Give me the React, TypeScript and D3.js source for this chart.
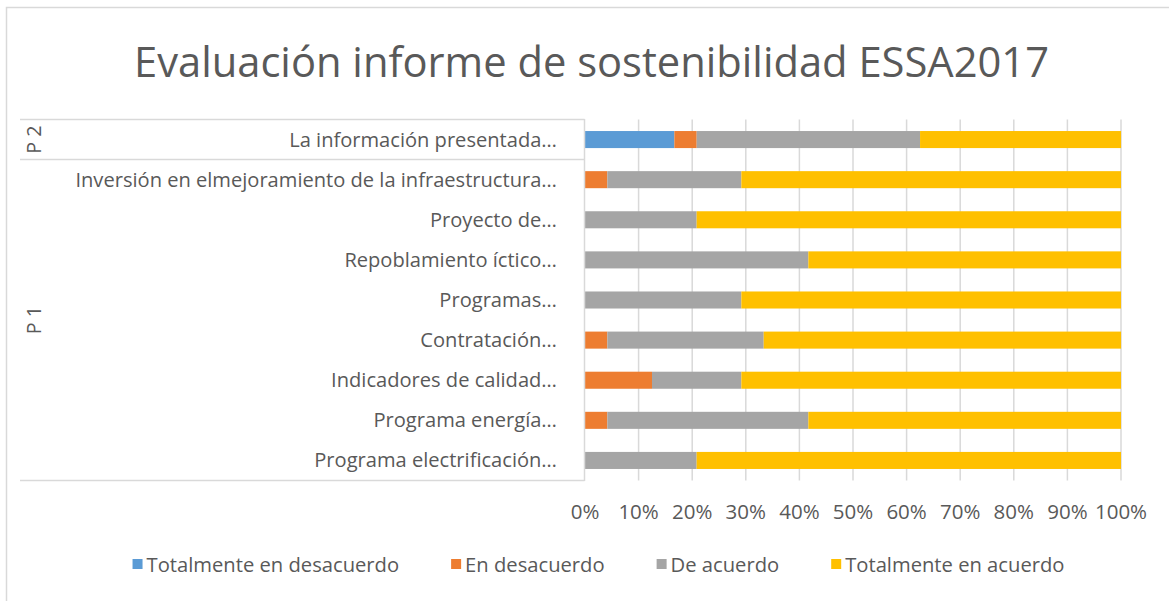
import React, { useEffect, useRef } from "react";
import * as d3 from "d3";

const categories = [
  "La información presentada…",
  "Inversión en elmejoramiento de la infraestructura…",
  "Proyecto de…",
  "Repoblamiento íctico…",
  "Programas…",
  "Contratación…",
  "Indicadores de calidad…",
  "Programa energía…",
  "Programa electrificación…",
];
const groups = ["P 2", "P 1", "P 1", "P 1", "P 1", "P 1", "P 1", "P 1", "P 1"];
const seriesNames = ["Totalmente en desacuerdo", "En desacuerdo", "De acuerdo", "Totalmente en acuerdo"];
const seriesColors = ["#5b9bd5", "#ed7d31", "#a5a5a5", "#ffc000"];
// percentage values per category (share of respondents)
const totDesacuerdo = [16.67, 0, 0, 0, 0, 0, 0, 0, 0];
const enDesacuerdo = [4.17, 4.17, 0, 0, 0, 4.17, 12.5, 4.17, 0];
const deAcuerdo = [41.67, 25.0, 20.83, 41.67, 29.17, 29.17, 16.67, 37.5, 20.83];
const totAcuerdo = [37.5, 70.83, 79.17, 58.33, 70.83, 66.67, 70.83, 58.33, 79.17];
const tickValues = [0, 10, 20, 30, 40, 50, 60, 70, 80, 90, 100];
const title = "Evaluación informe de sostenibilidad ESSA2017";

const FONT = "'Open Sans', sans-serif";
const TEXT = "#595959";
const GRID = "#d9d9d9";

export default function App() {
  const ref = useRef<SVGSVGElement>(null);
  useEffect(() => {
    const svg = d3.select(ref.current);
    svg.selectAll("*").remove();
    const W = 1169, H = 601;
    const left = 585, right = 1121, top = 119.5, bottom = 480.5;

    svg.append("rect").attr("x", 6.5).attr("y", 7.5).attr("width", W).attr("height", H)
      .attr("fill", "#fff").attr("stroke", GRID).attr("stroke-width", 1.5);

    svg.append("text").attr("x", 591.5).attr("y", 77).attr("text-anchor", "middle")
      .attr("font-family", FONT).attr("font-size", 41.7).attr("fill", TEXT).text(title);

    const x = d3.scaleLinear().domain([0, 100]).range([left, right]);
    const y = d3.scaleBand<string>().domain(categories).range([top, bottom]).paddingInner(0.575).paddingOuter(0.2875);
    const step = y.step();

    // gridlines
    svg.append("g").selectAll("line").data(tickValues.slice(1)).join("line")
      .attr("x1", (d) => x(d)).attr("x2", (d) => x(d)).attr("y1", top).attr("y2", bottom)
      .attr("stroke", GRID).attr("stroke-width", 1.5);

    // stacked bars
    const rows = categories.map((c, i) => ({ c, v: [totDesacuerdo[i], enDesacuerdo[i], deAcuerdo[i], totAcuerdo[i]] }));
    const stack = d3.stack<any>().keys([0, 1, 2, 3] as any).value((d: any, k: any) => d.v[k]);
    const layers = stack(rows);
    svg.append("g").selectAll("g").data(layers).join("g")
      .attr("fill", (_d, i) => seriesColors[i])
      .selectAll("rect").data((d) => d).join("rect")
      .attr("x", (d) => x(d[0])).attr("width", (d) => Math.max(0, x(d[1]) - x(d[0])))
      .attr("y", (d: any) => y(d.data.c)!).attr("height", y.bandwidth());

    // category axis line and group separators
    const axis = svg.append("g").attr("stroke", GRID).attr("stroke-width", 1.5);
    axis.append("line").attr("x1", left - 0.5).attr("x2", left - 0.5).attr("y1", top - 0.5).attr("y2", bottom + 0.5);
    const groupBounds: { name: string; start: number; end: number }[] = [];
    groups.forEach((g, i) => {
      const last = groupBounds[groupBounds.length - 1];
      if (last && last.name === g) last.end = i; else groupBounds.push({ name: g, start: i, end: i });
    });
    const edges = [top, ...groupBounds.map((g) => top + (g.end + 1) * step)];
    axis.selectAll("line.sep").data(edges).join("line").attr("class", "sep")
      .attr("x1", 20).attr("x2", left - 0.5).attr("y1", (d) => d).attr("y2", (d) => d);

    // category labels
    svg.append("g").selectAll("text").data(categories).join("text")
      .attr("x", 557).attr("y", (d) => y(d)! + y.bandwidth() / 2).attr("dy", "0.35em")
      .attr("text-anchor", "end").attr("font-family", FONT).attr("font-size", 20.1).attr("fill", TEXT)
      .text((d) => d);

    // group labels
    svg.append("g").selectAll("text").data(groupBounds).join("text")
      .attr("transform", (g) => `translate(34,${top + ((g.start + g.end + 1) / 2) * step}) rotate(-90)`)
      .attr("dy", "0.35em").attr("text-anchor", "middle").attr("font-family", FONT)
      .attr("font-size", 19.8).attr("fill", TEXT).text((g) => g.name);

    // value axis tick labels
    svg.append("g").selectAll("text").data(tickValues).join("text")
      .attr("x", (d) => x(d)).attr("y", 519).attr("text-anchor", "middle")
      .attr("font-family", FONT).attr("font-size", 20.5).attr("fill", TEXT).text((d) => `${d}%`);

    // legend
    const lg = svg.append("g");
    const items = lg.selectAll("g").data(seriesNames).join("g");
    items.append("rect").attr("width", 10).attr("height", 10).attr("y", 559).attr("fill", (_d, i) => seriesColors[i]);
    const texts = items.append("text").attr("x", 14).attr("y", 572).attr("font-family", FONT)
      .attr("font-size", 20.2).attr("fill", TEXT).text((d) => d);
    const widths: number[] = [];
    texts.each(function () { widths.push((this as SVGTextElement).getComputedTextLength() + 14); });
    const gap = 52;
    const total = d3.sum(widths) + gap * (widths.length - 1);
    let cx = 598.5 - total / 2;
    items.attr("transform", (_d, i) => {
      const t = `translate(${cx},0)`;
      cx += widths[i] + gap;
      return t;
    });
  }, []);
  return <svg ref={ref} width={1169} height={601} style={{ display: "block", position: "absolute", left: 0, top: 0 }} />;
}
